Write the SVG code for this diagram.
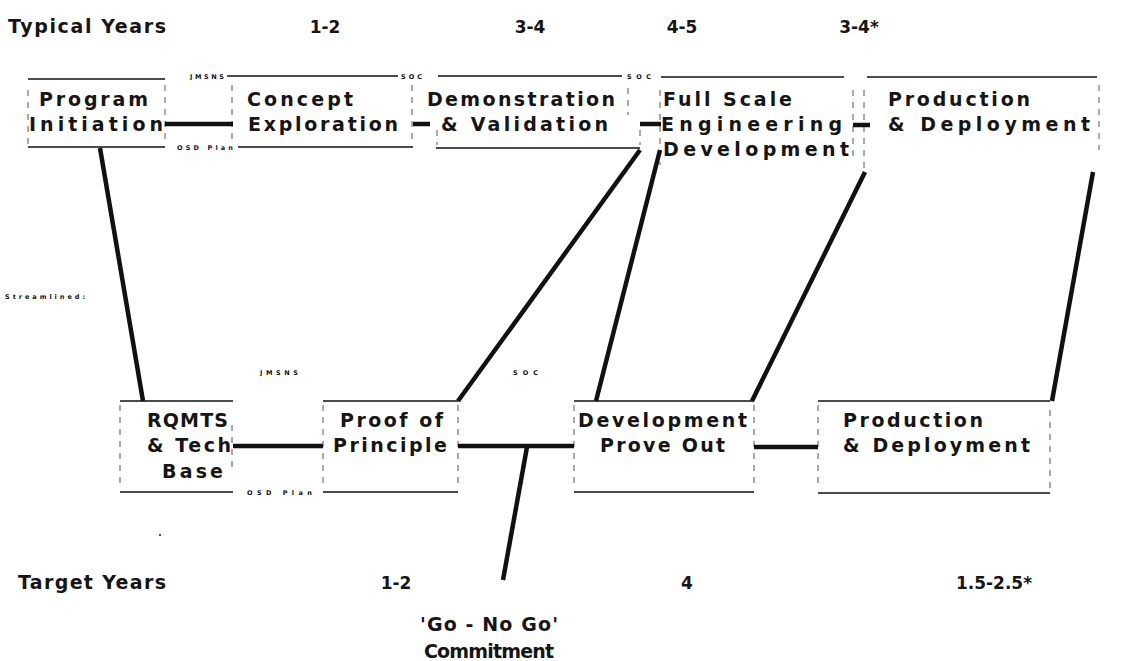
<svg xmlns="http://www.w3.org/2000/svg" width="1135" height="661" viewBox="0 0 1135 661">
<style>
.t{font-family:"DejaVu Sans",sans-serif;font-size:19px;font-weight:bold;fill:#151515}
.n{font-family:"DejaVu Sans",sans-serif;font-size:17px;font-weight:bold;fill:#151515}
.s{font-family:"DejaVu Sans",sans-serif;font-size:6.5px;font-weight:bold;fill:#111}
.h{stroke:#111;stroke-width:1.6;fill:none}
.v{stroke:#555;stroke-width:1;stroke-dasharray:6 6;fill:none}
.c{stroke:#111;stroke-width:4.5;fill:none}
</style>
<rect width="1135" height="661" fill="#fff"/>
<g id="header">
<text class="t" x="8" y="33" textLength="158">Typical Years</text>
<text class="n" x="325" y="33" text-anchor="middle">1-2</text>
<text class="n" x="530" y="33" text-anchor="middle">3-4</text>
<text class="n" x="682" y="33" text-anchor="middle">4-5</text>
<text class="n" x="859" y="33" text-anchor="middle">3-4*</text>
</g>
<g id="program-initiation">
<path class="h" d="M28 79H165M28 147H165"/><path class="v" d="M28 90V145M165 85V145"/>
<text class="t" x="39" y="106" textLength="109">Program</text>
<text class="t" x="29" y="131" textLength="134">Initiation</text>
</g>
<g id="concept-exploration">
<path class="h" d="M227 76H398M238 147H413"/><path class="v" d="M232 85V140M412 85V140"/>
<text class="t" x="247" y="106" textLength="106">Concept</text>
<text class="t" x="248" y="131" textLength="150">Exploration</text>
</g>
<g id="demo-validation">
<path class="h" d="M438 76H622M436 148H640"/><path class="v" d="M437 130V145M628 88V115M640 130V145"/>
<text class="t" x="427" y="106" textLength="188">Demonstration</text>
<text class="t" x="441" y="131" textLength="167">&amp; Validation</text>
</g>
<g id="fsed">
<path class="h" d="M661 77H844"/><path class="v" d="M660 90V165M853 90V160"/>
<text class="t" x="663" y="106" textLength="129">Full Scale</text>
<text class="t" x="661" y="131" textLength="181">Engineering</text>
<text class="t" x="663" y="156" textLength="186">Development</text>
</g>
<g id="production-top">
<path class="h" d="M867 77H1097"/><path class="v" d="M864 90V170M1099 85V150"/>
<text class="t" x="888" y="106" textLength="142">Production</text>
<text class="t" x="888" y="131" textLength="202">&amp; Deployment</text>
</g>
<g id="rqmts">
<path class="h" d="M120 401H233M120 492H233"/><path class="v" d="M120 405V488M232 425V470"/>
<text class="t" x="147" y="427" textLength="81">RQMTS</text>
<text class="t" x="147" y="452" textLength="84">&amp; Tech</text>
<text class="t" x="162" y="478" textLength="61">Base</text>
</g>
<g id="proof-principle">
<path class="h" d="M323 401H458M323 492H458"/><path class="v" d="M323 405V488M458 405V488"/>
<text class="t" x="340" y="427" textLength="103">Proof of</text>
<text class="t" x="333" y="452" textLength="114">Principle</text>
</g>
<g id="dev-prove-out">
<path class="h" d="M574 401H754M574 492H754"/><path class="v" d="M574 405V488M754 405V488"/>
<text class="t" x="578" y="427" textLength="169">Development</text>
<text class="t" x="600" y="452" textLength="125">Prove Out</text>
</g>
<g id="production-bottom">
<path class="h" d="M818 401H1050M818 493H1050"/><path class="v" d="M818 405V488M1050 410V488"/>
<text class="t" x="843" y="427" textLength="140">Production</text>
<text class="t" x="843" y="452" textLength="187">&amp; Deployment</text>
</g>
<g id="labels">
<text class="s" x="190" y="79" textLength="34">JMSNS</text>
<text class="s" x="401" y="79" textLength="21">SOC</text>
<text class="s" x="627" y="79" textLength="24">SOC</text>
<text class="s" x="177" y="150" textLength="56">OSD Plan</text>
<text class="s" x="5" y="299" textLength="80">Streamlined:</text>
<text class="s" x="260" y="375" textLength="38">JMSNS</text>
<text class="s" x="513" y="375" textLength="25">SOC</text>
<text class="s" x="247" y="495" textLength="65">OSD Plan</text>
<circle cx="160" cy="535" r="1" fill="#111"/>
<text class="t" x="18" y="589" textLength="148">Target Years</text>
<text class="n" x="396" y="589" text-anchor="middle">1-2</text>
<text class="n" x="687" y="589" text-anchor="middle">4</text>
<text class="n" x="994" y="589" text-anchor="middle">1.5-2.5*</text>
<text class="t" x="420" y="631" textLength="138">'Go - No Go'</text>
<text class="t" x="424" y="658" textLength="130">Commitment</text>
</g>
<g id="connectors">
<path class="c" d="M165 124H233M413 124H430M640 124H661M853 125H870"/>
<path class="c" d="M233 446H323M458 446H574M754 447H818"/>
<path class="c" d="M527 447L503 580"/>
<path class="c" d="M100 148L143 401M640 150L458 401M660 150L596 401M865 172L752 401M1093 172L1052 401"/>
</g>
</svg>
